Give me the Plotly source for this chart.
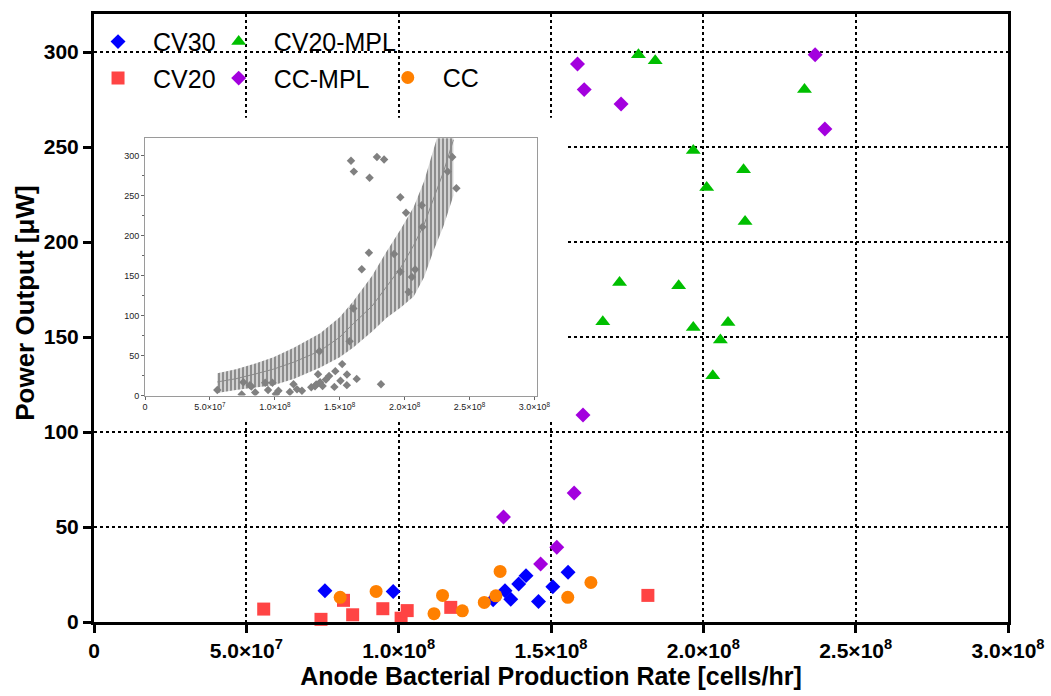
import plotly.graph_objects as go

# ---------------- data ----------------
cv30_x = [75.8e6, 98.2e6, 131.0e6, 134.9e6, 136.8e6, 139.4e6, 141.8e6, 145.9e6, 150.6e6, 155.6e6]
cv30_y = [16.5, 16.0, 11.7, 16.5, 12.0, 20.0, 24.4, 10.8, 18.5, 26.2]

cv20_x = [55.7e6, 74.5e6, 81.9e6, 84.9e6, 94.8e6, 100.8e6, 102.8e6, 117.1e6, 181.8e6]
cv20_y = [6.8, 1.4, 11.4, 3.8, 7.0, 2.0, 6.0, 7.7, 14.0]

cv20mpl_x = [178.7e6, 184.2e6, 233.2e6, 196.7e6, 213.2e6, 201.1e6, 213.7e6,
             172.5e6, 191.9e6, 167.0e6, 196.7e6, 208.1e6, 205.6e6, 203.1e6]
cv20mpl_y = [298.6, 295.4, 280.2, 248.1, 238.0, 228.7, 210.8,
             178.7, 177.0, 158.0, 155.0, 157.6, 148.4, 129.6]

ccmpl_x = [134.4e6, 146.6e6, 151.9e6, 157.6e6, 160.5e6, 158.7e6, 160.9e6, 173.0e6, 236.7e6, 239.9e6]
ccmpl_y = [55.3, 30.5, 39.3, 67.9, 109.0, 293.7, 280.2, 272.6, 298.6, 259.5]

cc_x = [80.8e6, 92.6e6, 111.6e6, 114.4e6, 120.9e6, 128.1e6, 131.9e6, 133.3e6, 155.5e6, 163.1e6]
cc_y = [13.0, 16.1, 4.4, 14.0, 5.9, 10.3, 13.8, 26.6, 13.0, 20.8]

# fitted curve with confidence band shown in the inset
fit_x = [55.7e6, 70e6, 85e6, 99e6, 115e6, 135e6, 150e6, 160.5e6, 175e6,
         186e6, 197e6, 207e6, 215e6, 222e6, 230e6, 237.6e6]
fit_c = [17, 21, 27, 33, 42, 56, 73, 90, 112, 136, 160, 188, 214, 245, 280, 320]
fit_lo = [3, 7, 10, 13, 21, 35, 48, 60, 80, 97, 110, 124, 148, 180, 212, 250]
fit_hi = [28, 33, 40, 48, 60, 78, 98, 118, 150, 180, 208, 236, 268, 305, 350, 410]

# tick labels
x_tickvals = [0, 5e7, 1e8, 1.5e8, 2e8, 2.5e8, 3e8]
x_ticktext = ["0", "5.0×10<sup>7</sup>", "1.0×10<sup>8</sup>", "1.5×10<sup>8</sup>",
              "2.0×10<sup>8</sup>", "2.5×10<sup>8</sup>", "3.0×10<sup>8</sup>"]
y_tickvals = [0, 50, 100, 150, 200, 250, 300]

FONT = "Arial, 'Liberation Sans', sans-serif"

fig = go.Figure()

series = [
    ("CV30", cv30_x, cv30_y, "diamond", "#0000FF", 11.5, "legend", "g1"),
    ("CV20", cv20_x, cv20_y, "square", "#FF4444", 13, "legend", "g2"),
    ("CV20-MPL", cv20mpl_x, cv20mpl_y, "triangle-up", "#00BF00", 13, "legend2", "g3"),
    ("CC-MPL", ccmpl_x, ccmpl_y, "diamond", "#A300DE", 11.5, "legend2", "g4"),
    ("CC", cc_x, cc_y, "circle", "#FF8000", 13, "legend3", "g5"),
]
for name, xs, ys, sym, col, sz, leg, grp in series:
    fig.add_trace(go.Scatter(
        x=xs, y=ys, mode="markers", name=name, legend=leg, legendgroup=grp,
        marker=dict(symbol=sym, color=col, size=sz, line=dict(width=0)),
        xaxis="x", yaxis="y", cliponaxis=False,
    ))

# ---------------- inset ----------------
fig.add_trace(go.Scatter(
    x=fit_x, y=fit_lo, mode="lines", line=dict(width=0, color="#888"),
    xaxis="x2", yaxis="y2", showlegend=False, hoverinfo="skip"))
fig.add_trace(go.Scatter(
    x=fit_x, y=fit_hi, mode="lines", line=dict(width=0, color="#888"),
    fill="tonexty", fillcolor="#d0d0d0",
    fillpattern=dict(shape="|", fgcolor="#7c7c7c", bgcolor="#d2d2d2", size=4, solidity=0.4),
    xaxis="x2", yaxis="y2", showlegend=False, hoverinfo="skip"))
fig.add_trace(go.Scatter(
    x=fit_x, y=fit_c, mode="lines", line=dict(width=1, color="#8a8a8a"),
    xaxis="x2", yaxis="y2", showlegend=False, hoverinfo="skip"))

all_x = cv30_x + cv20_x + cv20mpl_x + ccmpl_x + cc_x
all_y = cv30_y + cv20_y + cv20mpl_y + ccmpl_y + cc_y
fig.add_trace(go.Scatter(
    x=all_x, y=all_y, mode="markers",
    marker=dict(symbol="diamond", color="#808080", size=6.5, line=dict(width=0)),
    xaxis="x2", yaxis="y2", showlegend=False))

# white area behind the inset that hides the main grid
fig.add_shape(type="rect", xref="x", yref="y", x0=0, x1=155.3e6, y0=106.5, y1=265.4,
              fillcolor="white", line=dict(width=0), layer="between")

axis_common = dict(showline=True, linecolor="black", linewidth=3, mirror=True,
                   ticks="outside", ticklen=8, tickwidth=3, tickcolor="black",
                   showgrid=True, gridcolor="black", gridwidth=2, griddash="dot",
                   zeroline=False, automargin=False,
                   tickfont=dict(family=FONT, size=21, color="black", weight="bold"))

fig.update_layout(
    width=1051, height=696,
    margin=dict(l=94, r=43, t=14, b=74),
    paper_bgcolor="white", plot_bgcolor="white",
    template="none",
    font=dict(family=FONT, color="black"),
    xaxis=dict(range=[0, 3e8], tickvals=x_tickvals, ticktext=x_ticktext,
               title=dict(text="Anode Bacterial Production Rate [cells/hr]",
                          font=dict(family=FONT, size=25, color="black", weight="bold"),
                          standoff=6),
               domain=[0, 1], **axis_common),
    yaxis=dict(range=[0, 320], tickvals=y_tickvals, domain=[0, 1], **axis_common),
    xaxis2=dict(domain=[0.0558, 0.4844], anchor="y2", range=[0, 3.018e8],
                tickvals=x_tickvals, ticktext=x_ticktext,
                showline=True, linecolor="#9a9a9a", linewidth=1, mirror=True,
                ticks="outside", ticklen=3, tickcolor="#666", showgrid=False, zeroline=False,
                tickfont=dict(family=FONT, size=9, color="#222")),
    yaxis2=dict(domain=[0.3725, 0.7957], anchor="x2", range=[0, 322],
                tickvals=y_tickvals,
                showline=True, linecolor="#9a9a9a", linewidth=1, mirror=True,
                ticks="outside", ticklen=3, tickcolor="#666", showgrid=False, zeroline=False,
                minor=dict(ticks="outside", ticklen=2, dtick=25, tickcolor="#666", showgrid=False),
                tickfont=dict(family=FONT, size=9, color="#222")),
    legend=dict(x=-0.012, y=0.992, xanchor="left", yanchor="top", bgcolor="rgba(0,0,0,0)",
                itemwidth=60, tracegroupgap=1, font=dict(family=FONT, size=25, color="black")),
    legend2=dict(x=0.120, y=0.992, xanchor="left", yanchor="top", bgcolor="rgba(0,0,0,0)",
                 itemwidth=60, tracegroupgap=1, font=dict(family=FONT, size=25, color="black")),
    legend3=dict(x=0.305, y=0.933, xanchor="left", yanchor="top", bgcolor="rgba(0,0,0,0)",
                 itemwidth=60, tracegroupgap=1, font=dict(family=FONT, size=25, color="black")),
    annotations=[dict(text="<b>Power Output [μW]</b>", textangle=-90,
                      xref="paper", yref="paper", x=-0.0755, y=0.525,
                      xanchor="center", yanchor="middle", showarrow=False,
                      font=dict(family=FONT, size=26, color="black"))],
)

fig.write_html("out.html")
